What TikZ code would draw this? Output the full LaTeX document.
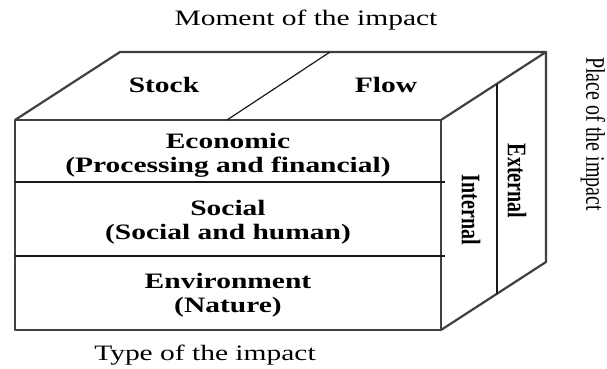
\documentclass[tikz,border=0pt]{standalone}
\usepackage{fontspec}
\setmainfont{Liberation Serif}
\usetikzlibrary{positioning}

\begin{document}
\begin{tikzpicture}[
      x=0.5pt, y=-0.5pt,
      edge/.style={draw=black!75, line width=1.1pt, line join=round},
      split/.style={draw=black!90, line width=0.6pt},
      face/.style={font=\fontsize{11}{12}\selectfont\bfseries, align=center, xscale=1.34, transform shape},
      side/.style={font=\fontsize{10}{12}\selectfont\bfseries, xscale=1.34, rotate=-90, transform shape},
      axis/.style={font=\fontsize{11}{12}\selectfont, xscale=1.34, transform shape},
      vaxis/.style={font=\fontsize{10}{12}\selectfont, xscale=1.34, rotate=-90, transform shape}
    ]
    \useasboundingbox (0,0) rectangle (607,369);

    % corners of the box
    \coordinate (ftl) at (15,120);
    \coordinate (ftr) at (441,120);
    \coordinate (fbr) at (441,330);
    \coordinate (fbl) at (15,330);
    \coordinate (btl) at (120,52);
    \coordinate (btr) at (546,52);
    \coordinate (bbr) at (546,262);

    % faces
    \draw[edge] (ftl) rectangle (fbr);
    \draw[edge] (ftl) -- (btl) -- (btr) -- (ftr);
    \draw[edge] (btr) -- (bbr) -- (fbr);

    % splits
    \draw[split] (227,120) -- (330,52);
    \draw[split] (15,182) -- (445,182);
    \draw[split] (15,256) -- (445,256);
    \draw[split] (497,84) -- (497,294);

    % labels
    \node[face] (stock) at (164,85) {Stock};
    \node[face] (flow) at (386,85) {Flow};
    \node[face] (econ) at (228,155) {Economic\\(Processing and financial)};
    \node[face] (social) at (228,222) {Social\\(Social and human)};
    \node[face] (env) at (228,295) {Environment\\(Nature)};
    \node[side] (internal) at (471,210) {Internal};
    \node[side] (external) at (517,181) {External};

    \node[axis] (moment) at (306,20) {Moment of the impact};
    \node[axis] (type) at (205,355) {Type of the impact};
    \node[vaxis] (place) at (593,134) {Place of the impact};
  \end{tikzpicture}
\end{document}
